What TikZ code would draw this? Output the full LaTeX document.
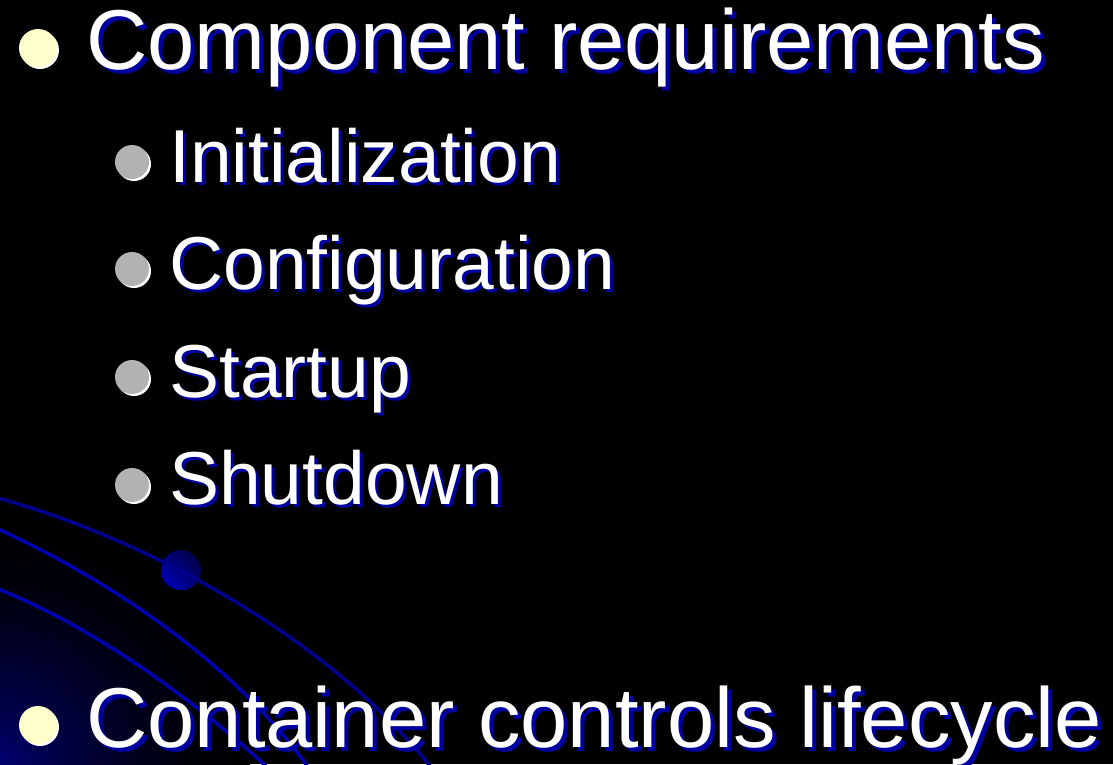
\documentclass[tikz,border=0pt]{standalone}
\usepackage{fontspec}
\setmainfont{Liberation Sans}
\usetikzlibrary{shadows}
\definecolor{orbit}{RGB}{0,0,175}
\definecolor{glow}{RGB}{0,0,105}
\definecolor{planetlit}{RGB}{0,0,175}
\definecolor{planetdark}{RGB}{0,0,70}
\definecolor{cream}{RGB}{255,255,204}
\definecolor{silver}{RGB}{178,178,178}
\definecolor{textshade}{RGB}{0,0,160}
\tikzset{
  orbitline/.style={draw=orbit, line width=3.5pt, line cap=round},
  bigdot/.style={circle, fill=cream, inner sep=0pt, minimum size=38pt,
    drop shadow={fill=white, opacity=1, shadow xshift=2pt, shadow yshift=-2pt}},
  smalldot/.style={circle, fill=silver, inner sep=0pt, minimum size=34pt,
    drop shadow={fill=white, opacity=1, shadow xshift=2pt, shadow yshift=-2pt}},
  headtext/.style={anchor=base west, inner sep=0pt, text=white, font=\fontsize{85}{90}\selectfont},
  headshade/.style={headtext, text=textshade},
  itemtext/.style={anchor=base west, inner sep=0pt, text=white, font=\fontsize{75}{80}\selectfont},
  itemshade/.style={itemtext, text=textshade}
}
\begin{document}
\begin{tikzpicture}[x=1pt, y=-1pt]
\useasboundingbox (0,0) rectangle (1113,764);
\fill[black] (0,0) rectangle (1113,764);

% background: corner glow, orbit lines and the small planet
\begin{scope}
  \clip (0,0) rectangle (1113,764);
  % glow built from concentric discs, brightest at the corner
  \foreach \i in {0,...,40} {
    \pgfmathsetmacro\rad{250-\i*6}
    \pgfmathsetmacro\pct{100*(\i/40)^1.6}
    \fill[glow!\pct!black] (0,764) circle[radius=\rad];
  }
  \coordinate (o2a) at (-2,529);
  \coordinate (o2b) at (310,770);
  \draw[orbitline] (o2a) .. controls (120,585) and (240,670) .. (o2b);
  \coordinate (o3a) at (-2,589);
  \coordinate (o3b) at (268,768);
  \draw[orbitline] (o3a) .. controls (90,625) and (195,700) .. (o3b);
  \shade[top color=planetdark, bottom color=planetlit, shading angle=-45]
    (181,570) circle[radius=20];
  \coordinate (o1a) at (-2,498);
  \coordinate (o1b) at (430,766);
  \draw[orbitline, draw=orbit!80!black] (o1a) .. controls (150,540) and (330,640) .. (o1b);
\end{scope}

% top-level bullet
\node[bigdot] (dotA) at (38,48) {};
\node[headshade] (headAs) at (90,73) {Component requirements};
\node[headtext]  (headA)  at (86,69) {Component requirements};

% sub-items
\node[smalldot] (dot1) at (132,162) {};
\node[itemshade] (item1s) at (172,185) {Initialization};
\node[itemtext]  (item1)  at (169,182) {Initialization};

\node[smalldot] (dot2) at (132,269) {};
\node[itemshade] (item2s) at (172,292) {Configuration};
\node[itemtext]  (item2)  at (169,289) {Configuration};

\node[smalldot] (dot3) at (132,377) {};
\node[itemshade] (item3s) at (172,400) {Startup};
\node[itemtext]  (item3)  at (169,397) {Startup};

\node[smalldot] (dot4) at (132,485) {};
\node[itemshade] (item4s) at (172,507) {Shutdown};
\node[itemtext]  (item4)  at (169,504) {Shutdown};

% second top-level bullet
\node[bigdot] (dotB) at (38,725) {};
\node[headshade] (headBs) at (90,751) {Container controls lifecycle};
\node[headtext]  (headB)  at (86,747) {Container controls lifecycle};
\end{tikzpicture}
\end{document}
